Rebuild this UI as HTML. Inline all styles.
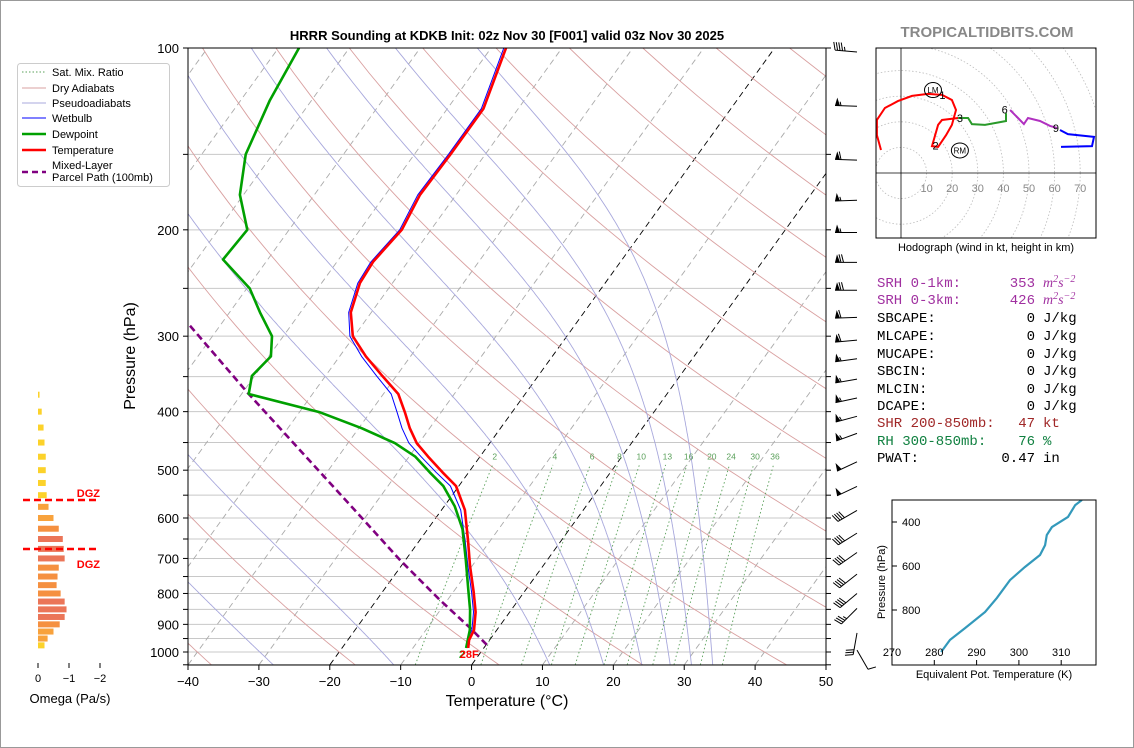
<!DOCTYPE html>
<html><head><meta charset="utf-8"><title>HRRR Sounding KDKB</title>
<style>
html,body{margin:0;padding:0;background:#fff;}
svg{display:block;font-family:"Liberation Sans","DejaVu Sans",sans-serif;}
.mono{font-family:"Liberation Mono","DejaVu Sans Mono",monospace;font-size:14px;}
</style></head>
<body>
<svg id="fig" width="1134" height="748" viewBox="0 0 1134 748" xmlns="http://www.w3.org/2000/svg">
<rect x="0.5" y="0.5" width="1133" height="747" fill="#fff" stroke="#999"/>
<defs><clipPath id="mainclip"><rect x="188" y="48" width="638" height="617"/></clipPath>
<clipPath id="hodoclip"><rect x="876" y="48" width="220" height="190"/></clipPath>
<clipPath id="insetclip"><rect x="892" y="500" width="204" height="165"/></clipPath></defs>
<text x="507" y="40" text-anchor="middle" font-size="13" font-weight="bold">HRRR Sounding at KDKB Init: 02z Nov 30 [F001] valid 03z Nov 30 2025</text>
<text x="987" y="37" text-anchor="middle" font-size="15" font-weight="bold" fill="#888">TROPICALTIDBITS.COM</text>
<g id="bg" clip-path="url(#mainclip)"></g>
<g id="series" clip-path="url(#mainclip)"></g>
<g id="axes"></g>
<g id="omega"></g>
<g id="barbs"></g>
<g id="hodo"></g>
<g id="inset"></g>
<g id="legend"></g>
<g id="stats" class="mono"></g>
</svg>
<script>
// ---- data ----
const tempP = [100,126,150,175,200,226,245,274,300,324,349,374,401,426,451,475,504,531,582,653,720,796,859,920,955,985];
const tempT = [-57.9,-54.9,-54.9,-55.1,-54.1,-54.9,-54.6,-52.9,-50.2,-46.3,-42.0,-37.9,-35.1,-32.8,-30.3,-27.3,-23.7,-20.4,-16.7,-13.2,-10.3,-7.1,-4.8,-3.2,-2.9,-2.2];
const wetT = [-58.2,-55.2,-55.2,-55.4,-54.4,-55.2,-54.9,-53.2,-50.6,-46.9,-42.8,-38.9,-36.2,-33.9,-31.4,-28.3,-24.6,-21.2,-17.3,-13.6,-10.6,-7.4,-5.1,-3.5,-3.2,-2.4];
const dewP = [100,122,150,175,200,224,250,274,300,324,349,374,401,426,451,475,504,531,574,626,704,789,852,920,985];
const dewT = [-87.1,-85.9,-83.8,-80.5,-75.9,-76.3,-69.6,-65.7,-61.6,-59.7,-60.4,-59.0,-47.1,-39.6,-33.4,-29.1,-25.5,-22.2,-18.5,-15.1,-11.5,-8.1,-5.8,-3.8,-2.5];
const parcelP = [973,912,820,704,571,463,374,285,250];
const parcelT = [0.1,-4.0,-11.1,-20.8,-33.4,-46.1,-59.0,-74.9,-81.5];
const omegaP = [375,400,425,450,475,500,525,550,575,600,625,650,675,700,725,750,775,800,825,850,875,900,925,950,975];
const omegaV = [-0.05,-0.12,-0.18,-0.21,-0.25,-0.25,-0.25,-0.28,-0.34,-0.5,-0.67,-0.8,-0.83,-0.86,-0.67,-0.63,-0.6,-0.73,-0.86,-0.92,-0.86,-0.7,-0.5,-0.31,-0.21];
const windP = [100,123,151,176,199,223,248,275,300,322,348,374,401,428,477,524,574,626,674,732,788,834,930,993];
const windSpd = [45,55,60,55,55,70,70,60,60,55,55,55,55,55,50,50,40,40,40,40,40,35,30,10];
const windDir = [275,272,272,268,270,270,270,268,265,262,260,258,255,250,245,245,240,238,235,232,230,225,190,150];
const hodoRedU = [-7.8,-9.4,-9.4,-6.3,-1.2,4.3,10.5,16.0,19.9,21.5,19.9,17.6,14.5,12.1,14.5,16.0,22.3];
const hodoRedV = [9.0,14.8,20.7,25.4,28.1,30.1,30.9,30.5,28.5,24.6,18.8,14.8,10.2,10.5,18.8,20.7,21.5];
const hodoGreenU = [22.3,26.2,27.7,32.8,38.7,41.0,41.0];
const hodoGreenV = [21.5,21.5,19.1,18.8,19.9,20.3,23.4];
const hodoPurpleU = [42.6,45.7,48.0,49.6,54.3,58.2,60.9];
const hodoPurpleV = [24.6,21.5,19.1,21.5,20.3,18.4,17.6];
const hodoBlueU = [62.1,65.2,75.4,74.6,62.5];
const hodoBlueV = [16.8,15.2,14.1,10.5,10.2];
const thetaEK = [281.6,283.7,287.3,292.0,294.8,297.9,301.4,305.0,306.2,306.6,307.8,311.6,313.3,314.9];
const thetaEP = [991,936,882,809,745,664,605,550,505,459,423,377,323,300];
const tempTicks = [-40,-30,-20,-10,0,10,20,30,40,50];
const presTicks = [100,200,300,400,500,600,700,800,900,1000];
const mixRatios = [2,4,6,8,10,13,16,20,24,30,36];

// ---- axes functions ----
const NS="http://www.w3.org/2000/svg";
const PX=638/90, SK=0.721;
function yP(p){return 48+604*Math.log10(p/100);}
function xT(T,p){return 188+(T+40)*PX+(665-yP(p))*SK;}
function mk(tag,attrs,parent,txt){const e=document.createElementNS(NS,tag);for(const k in attrs)e.setAttribute(k,attrs[k]);if(txt!==undefined)e.textContent=txt;parent.appendChild(e);return e;}
function poly(pts){return pts.map(p=>p[0].toFixed(1)+","+p[1].toFixed(1)).join(" ");}
const bg=document.getElementById('bg'), series=document.getElementById('series'), axes=document.getElementById('axes');

// gridlines (isobars)
for(let p=100;p<=1050;p+=50){
  const l=mk('line',{x1:188,x2:826,y1:yP(p),y2:yP(p),stroke:'#c8c8c8','stroke-width':1},bg);
  
  
}
// isotherms
for(let T=-140;T<=50;T+=10){
  const blk=(T===-20||T===0);
  const l=mk('line',{x1:xT(T,1050),y1:yP(1050),x2:xT(T,100),y2:yP(100),stroke:blk?'#000':'#aaa','stroke-width':blk?0.9:0.9,'stroke-dasharray':'6,4'},bg);
  
  
}
// dry adiabats
for(let th=133.15;th<=533.15;th+=20){
  const pts=[];for(let p=1050;p>=100;p-=10){pts.push([xT(th*Math.pow(p/1000,0.286)-273.15,p),yP(p)]);}
  const l=mk('polyline',{points:poly(pts),fill:'none',stroke:'#d9a0a0','stroke-width':0.9},bg);
  
  
}
// moist adiabats
function es(Tc){return 6.112*Math.exp(17.67*Tc/(Tc+243.5));}
const moistStarts=[-40,-28,-11,11,18.6,24,28,31,34];
for(const T0 of moistStarts){
  let T=T0+273.15;const pts=[];
  for(let p=1050;p>=100;p-=2){
    pts.push([xT(T-273.15,p),yP(p)]);
    const e=es(T-273.15), rs=0.622*e/(p-e);
    const g=(287*T+2.501e6*rs)/(1005+(2.501e6*2.501e6*rs*0.622)/(287*T*T))/p;
    T-=g*2;
  }
  const l=mk('polyline',{points:poly(pts),fill:'none',stroke:'#a8a8dc','stroke-width':0.9},bg);
  
  
}
// mixing ratio lines
function tdFromW(w,p){const e=w*p/(622+w);const L=Math.log(e/6.112);return 243.5*L/(17.67-L);}
for(const w of mixRatios){
  const pts=[];for(let p=1050;p>=490;p-=10)pts.push([xT(tdFromW(w,p),p),yP(p)]);
  const l=mk('polyline',{points:poly(pts),fill:'none',stroke:'#5aa05a','stroke-width':0.9,'stroke-dasharray':'1.5,2.5'},bg);
  
  
  const t=mk('text',{x:xT(tdFromW(w,480),480),y:yP(480),'font-size':8.5,fill:'#5aa05a','text-anchor':'middle'},bg,String(w));
  
  
}
// series
function line(P,T,attrs,name){
  const pts=P.map((p,i)=>[xT(T[i],p),yP(p)]);
  const l=mk('polyline',Object.assign({points:poly(pts),fill:'none','stroke-linejoin':'round'},attrs),series);
  return l;
}
let s;
s=line(parcelP,parcelT,{stroke:'#800080','stroke-width':2.6,'stroke-dasharray':'7,4'});


s=line(tempP,wetT,{stroke:'#0000ff','stroke-width':1});


s=line(dewP,dewT,{stroke:'#00a000','stroke-width':2.6});


s=line(tempP,tempT,{stroke:'#ff0000','stroke-width':2.6});


const sfcY=yP(tempP[tempP.length-1])+10;
s=mk('text',{x:xT(dewT[dewT.length-1],985)-4,y:sfcY,'font-size':11,'font-weight':'bold',fill:'#00a000','text-anchor':'middle'},axes,'2');


s=mk('text',{x:xT(tempT[tempT.length-1],985)+1,y:sfcY,'font-size':11,'font-weight':'bold',fill:'#ff0000','text-anchor':'middle'},axes,'28F');



// axes frame
s=mk('rect',{x:188,y:48,width:638,height:617,fill:'none',stroke:'#000','stroke-width':1},axes);


for(const T of tempTicks){
  const x=188+(T+40)*PX;
  mk('line',{x1:x,x2:x,y1:665,y2:670,stroke:'#000'},axes);
  const t=mk('text',{x:x,y:686,'font-size':13,'text-anchor':'middle'},axes,(T<0?'\u2212'+(-T):String(T)));
  
  
}
for(let p=100;p<=1050;p+=50){const y=yP(p);mk('line',{x1:183,x2:188,y1:y,y2:y,stroke:'#000'},axes);mk('line',{x1:826,x2:831,y1:y,y2:y,stroke:'#000'},axes);}
for(const p of presTicks){
  const t=mk('text',{x:179,y:yP(p)+5,'font-size':13,'text-anchor':'end'},axes,String(p));
  
  
}
s=mk('text',{x:507,y:706,'font-size':16,'text-anchor':'middle'},axes,'Temperature (°C)');


s=mk('text',{x:135,y:356,'font-size':16,'text-anchor':'middle',transform:'rotate(-90 135 356)'},axes,'Pressure (hPa)');



// omega panel
const om=document.getElementById('omega');
function xO(v){return 38-v*31;}
function omColor(v){const a=Math.abs(v);if(a<0.3)return '#fcd22a';if(a<0.55)return '#f8a23c';if(a<0.75)return '#f59040';return '#eb7558';}
omegaP.forEach((p,i)=>{
  const b=mk('rect',{x:xO(0),y:yP(p)-3,width:xO(omegaV[i])-xO(0),height:6,fill:omColor(omegaV[i])},om);
  
  
});
[0,-1,-2].forEach(v=>{mk('line',{x1:xO(v),x2:xO(v),y1:663,y2:668,stroke:'#000'},om);
  const t=mk('text',{x:xO(v),y:682,'font-size':11,'text-anchor':'middle'},om,v===0?'0':'\u2212'+(-v));
  
  });
s=mk('text',{x:70,y:703,'font-size':13,'text-anchor':'middle'},om,'Omega (Pa/s)');


[[500,493],[549,564]].forEach(d=>{
  const l=mk('line',{x1:23,x2:98,y1:d[0],y2:d[0],stroke:'#ff0000','stroke-width':2.5,'stroke-dasharray':'7,4'},om);
  
  
  const t=mk('text',{x:100,y:d[1]+4,'font-size':11,'font-weight':'bold',fill:'#ff0000','text-anchor':'end'},om,'DGZ');
  
  
});

// wind barbs
const bb=document.getElementById('barbs');
windP.forEach((p,i)=>{
  const tipX=857, tipY=yP(p)+ (p>900?0:4);
  const r=windDir[i]*Math.PI/180, sx=Math.sin(r), sy=-Math.cos(r);
  const L=22, ex=tipX+sx*L, ey=tipY+sy*L, px=-sy, py=sx;
  const g=mk('g',{},bb);
  
  
  mk('line',{x1:tipX,y1:tipY,x2:ex,y2:ey,stroke:'#000','stroke-width':1},g);
  let spd=Math.round(windSpd[i]/5)*5, pos=0;
  const up=(px*0+py*-1)>0?1:-1;
  const ppx=px*(py<0?1:-1)*1, ppy=py*(py<0?1:-1);
  while(spd>=50){const ax=ex-sx*pos, ay=ey-sy*pos, bx=ex-sx*(pos+5), by=ey-sy*(pos+5);
    mk('polygon',{points:poly([[ax,ay],[ax+ppx*8-sx*2,ay+ppy*8-sy*2],[bx,by]]),fill:'#000'},g);pos+=6;spd-=50;}
  while(spd>=10){const ax=ex-sx*pos, ay=ey-sy*pos;mk('line',{x1:ax,y1:ay,x2:ax+ppx*8+sx*2,y2:ay+ppy*8+sy*2,stroke:'#000','stroke-width':1},g);pos+=2.5;spd-=10;}
  if(spd>=5){if(pos===0)pos=2.5;const ax=ex-sx*pos, ay=ey-sy*pos;mk('line',{x1:ax,y1:ay,x2:ax+ppx*4+sx*1,y2:ay+ppy*4+sy*1,stroke:'#000','stroke-width':1},g);}
});

// hodograph
const hd=document.getElementById('hodo');
const HX=901, HY=173, HS=2.56;
function hx(u){return HX+u*HS;} function hy(v){return HY-v*HS;}
const hc=mk('g',{'clip-path':'url(#hodoclip)'},hd);
for(let r=10;r<=90;r+=10){const c=mk('circle',{cx:HX,cy:HY,r:r*HS,fill:'none',stroke:'#bbb','stroke-width':0.8,'stroke-dasharray':'1.5,2'},hc);}
mk('line',{x1:HX,x2:HX,y1:48,y2:238,stroke:'#000','stroke-width':0.8},hc);
mk('line',{x1:876,x2:1096,y1:HY,y2:HY,stroke:'#000','stroke-width':0.8},hc);
function hline(U,V,col,name){const l=mk('polyline',{points:poly(U.map((u,i)=>[hx(u),hy(V[i])])),fill:'none',stroke:col,'stroke-width':2},hc);}
hline(hodoRedU,hodoRedV,'#ff0000','hodograph-0-3km');
hline(hodoGreenU,hodoGreenV,'#2a9a2a','hodograph-3-6km');
hline(hodoPurpleU,hodoPurpleV,'#b030c0','hodograph-6-9km');
hline(hodoBlueU,hodoBlueV,'#0000ff','hodograph-9km-plus');
for(let k=10;k<=70;k+=10){const t=mk('text',{x:hx(k),y:192,'font-size':11,fill:'#888','text-anchor':'middle'},hd,String(k));}
[['1',16.2,30.5],['2',13.5,10.8],['3',23,21.5],['6',40.5,24.8],['9',60.5,17.6]].forEach(a=>{const t=mk('text',{x:hx(a[1]),y:hy(a[2])+4,'font-size':11,'text-anchor':'middle'},hd,a[0]);});
[['LM',12.5,32.4],['RM',23,8.8]].forEach(a=>{mk('ellipse',{cx:hx(a[1]),cy:hy(a[2]),rx:8.5,ry:7.5,fill:'none',stroke:'#000','stroke-width':1},hd);const t=mk('text',{x:hx(a[1]),y:hy(a[2])+3,'font-size':8,'text-anchor':'middle'},hd,a[0]);});
mk('rect',{x:876,y:48,width:220,height:190,fill:'none',stroke:'#000','stroke-width':1},hd);
s=mk('text',{x:986,y:251,'font-size':11,'text-anchor':'middle'},hd,'Hodograph (wind in kt, height in km)');



// theta-e inset
const ins=document.getElementById('inset');
function ix(k){return 892+(k-270)*4.23;} function iy(p){return 522+(p-400)*0.22;}
const il=mk('polyline',{points:poly(thetaEK.map((k,i)=>[ix(k),iy(thetaEP[i])])),fill:'none',stroke:'#3399bb','stroke-width':2.2,'clip-path':'url(#insetclip)'},ins);


mk('rect',{x:892,y:500,width:204,height:165,fill:'none',stroke:'#000','stroke-width':1},ins);
[400,600,800].forEach(p=>{mk('line',{x1:892,x2:897,y1:iy(p),y2:iy(p),stroke:'#000'},ins);const t=mk('text',{x:902,y:iy(p)+4,'font-size':11},ins,String(p));});
[270,280,290,300,310].forEach(k=>{mk('line',{x1:ix(k),x2:ix(k),y1:660,y2:665,stroke:'#000'},ins);const t=mk('text',{x:ix(k),y:656,'font-size':11,'text-anchor':'middle'},ins,String(k));});
s=mk('text',{x:994,y:678,'font-size':11,'text-anchor':'middle'},ins,'Equivalent Pot. Temperature (K)');


s=mk('text',{x:885,y:582,'font-size':11,'text-anchor':'middle',transform:'rotate(-90 885 582)'},ins,'Pressure (hPa)');



// legend
const lg=document.getElementById('legend');
s=mk('rect',{x:17.5,y:63.5,width:152,height:123,rx:3,fill:'#fff',stroke:'#ccc'},lg);


const leg=[['Sat. Mix. Ratio',72,'#5aa05a',1,'1.5,2'],['Dry Adiabats',88,'#d9a0a0',1,''],['Pseudoadiabats',103,'#a8a8dc',1,''],['Wetbulb',118,'#0000ff',1,''],['Dewpoint',134,'#00a000',2.6,''],['Temperature',150,'#ff0000',2.6,''],['',172,'#800080',2.6,'6,4']];
leg.forEach(e=>{const g=mk('g',{},lg);
  mk('line',{x1:22,x2:46,y1:e[1],y2:e[1],stroke:e[2],'stroke-width':e[3],'stroke-dasharray':e[4]},g);
  if(e[0])mk('text',{x:52,y:e[1]+4,'font-size':11},g,e[0]);});
mk('text',{x:52,y:169,'font-size':11},lg,'Mixed-Layer');
mk('text',{x:52,y:181,'font-size':11},lg,'Parcel Path (100mb)');

// stats
const st=document.getElementById('stats');
const rows=[['SRH 0-1km:','353','srh','#a030a0',282],['SRH 0-3km:','426','srh','#a030a0',299],['SBCAPE:','0','J/kg','#000',317],['MLCAPE:','0','J/kg','#000',335],['MUCAPE:','0','J/kg','#000',353],['SBCIN:','0','J/kg','#000',370],['MLCIN:','0','J/kg','#000',388],['DCAPE:','0','J/kg','#000',405],['SHR 200-850mb:','47','kt','#a02828',422],['RH 300-850mb:','76','%','#108040',440],['PWAT:','0.47','in','#000',457]];
rows.forEach(r=>{const g=mk('g',{fill:r[3]},st);
  mk('text',{x:877,y:r[4]+5},g,r[0]);
  mk('text',{x:1035,y:r[4]+5,'text-anchor':'end'},g,r[1]);
  if(r[2]==='srh'){const t=mk('text',{x:1043,y:r[4]+5,'font-style':'italic','font-family':'Liberation Serif, serif','font-size':14},g);
    t.innerHTML='m<tspan dy="-5" font-size="10">2</tspan><tspan dy="5">s</tspan><tspan dy="-5" font-size="10">−2</tspan>';}
  else mk('text',{x:1043,y:r[4]+5},g,r[2]);
});
</script>
</body></html>
